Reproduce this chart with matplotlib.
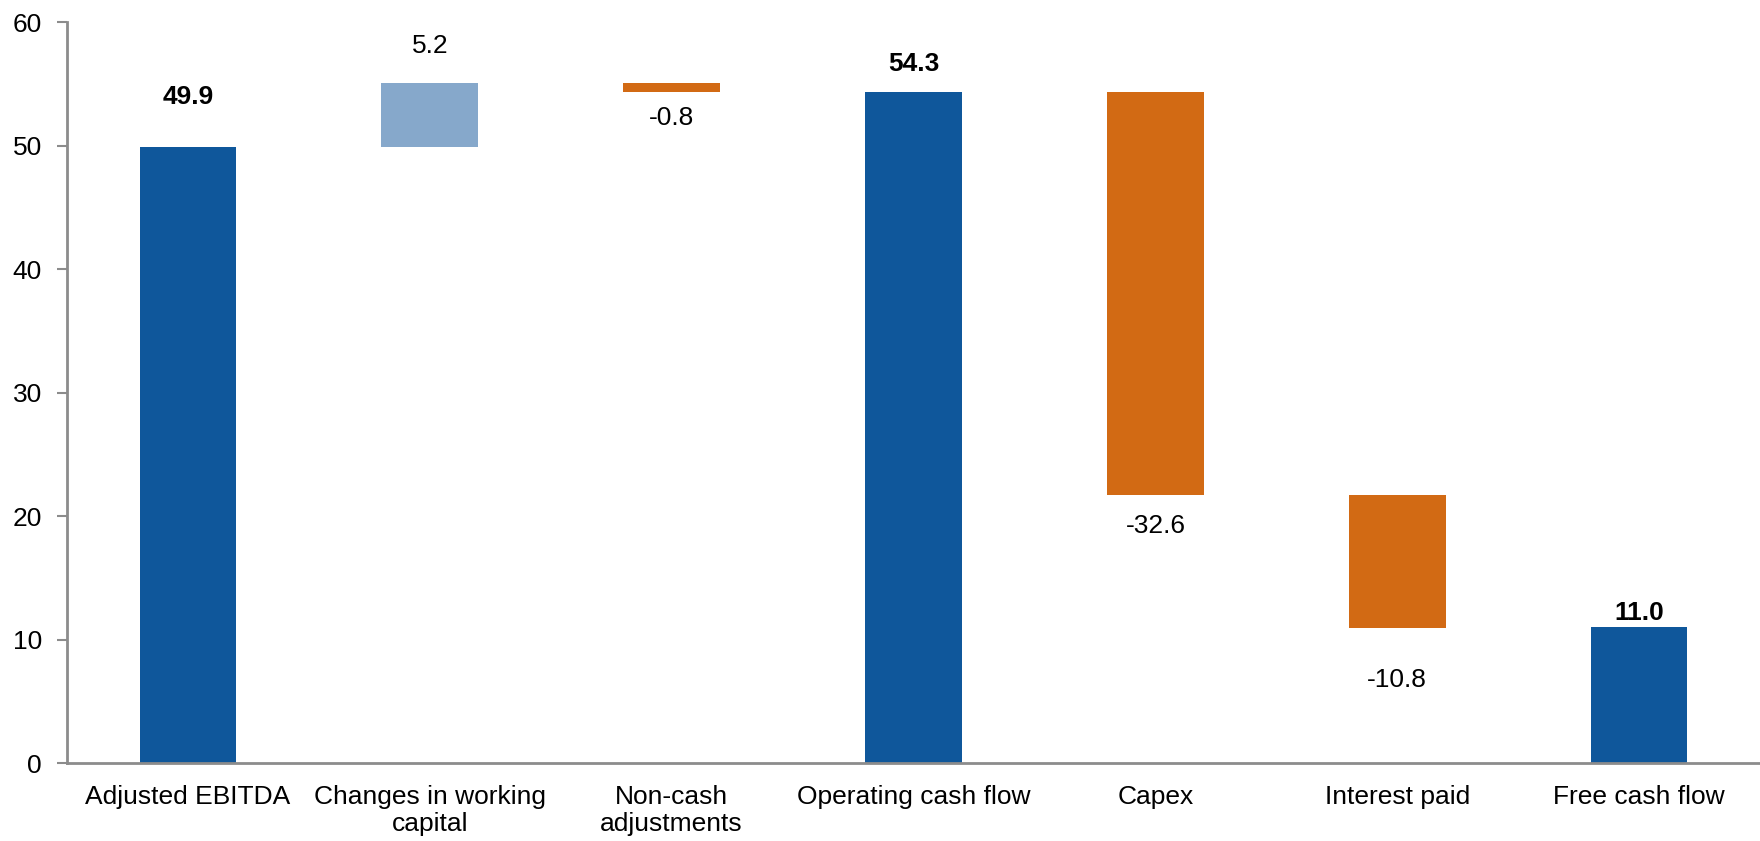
import numpy as np
import matplotlib
matplotlib.use("Agg")
import matplotlib.pyplot as plt

plt.rcParams['font.family'] = ['Liberation Sans', 'DejaVu Sans']

#%% data
categories = ["Adjusted EBITDA", "Changes in working\ncapital", "Non-cash\nadjustments",
              "Operating cash flow", "Capex", "Interest paid", "Free cash flow"]
values     = [49.9, 5.2, -0.8, 54.3, -32.6, -10.8, 11.0]
is_total   = [True, False, False, True, False, False, True]
labels     = ["49.9", "5.2", "-0.8", "54.3", "-32.6", "-10.8", "11.0"]

#%% styling
dark_blue  = "#0F579B"
light_blue = "#86A8CB"
orange     = "#D26A14"
axis_grey  = "#8C8C8C"
fsize      = 19
# label distance from bar end in points (as placed in the source chart)
label_offset = [36, 26, 18.5, 20.5, 22, 37, 10]

#%% waterfall geometry
bottoms, heights, colors = [], [], []
running = 0.0
for v, tot in zip(values, is_total):
    if tot:
        bottoms.append(0.0)
        heights.append(v)
        colors.append(dark_blue)
        running = v
    else:
        if v >= 0:
            bottoms.append(running)
            colors.append(light_blue)
        else:
            bottoms.append(running + v)
            colors.append(orange)
        heights.append(abs(v))
        running = running + v

fig = plt.figure(figsize=(17.6, 8.41), dpi=100)
ax = fig.add_axes([0.0381, 0.0927, 0.9619, 0.8811])

x = np.arange(len(categories))
ax.bar(x, heights, bottom=bottoms, width=0.4, color=colors, zorder=2)

for i in range(len(values)):
    bold = is_total[i]
    if values[i] >= 0 or is_total[i]:
        ypos = bottoms[i] + heights[i]
        off = label_offset[i]
    else:
        ypos = bottoms[i]
        off = -label_offset[i]
    ax.annotate(labels[i], (x[i], ypos), xytext=(0, off), textcoords="offset points",
                ha="center", va="center", fontsize=fsize,
                fontweight="bold" if bold else "normal", color="black")

ax.set_xlim(-0.5, len(categories) - 0.5)
ax.set_ylim(0, 60)
ax.set_yticks(np.arange(0, 61, 10))
ax.set_xticks(x)
ax.set_xticklabels(categories, fontsize=fsize, linespacing=1.15)
ax.tick_params(axis="x", length=0, pad=16)
ax.tick_params(axis="y", length=7, width=1.5, color=axis_grey, labelsize=fsize, pad=11)

for s in ["top", "right"]:
    ax.spines[s].set_visible(False)
for s in ["left", "bottom"]:
    ax.spines[s].set_color(axis_grey)
    ax.spines[s].set_linewidth(2)

fig.savefig("out.png", dpi=100)
